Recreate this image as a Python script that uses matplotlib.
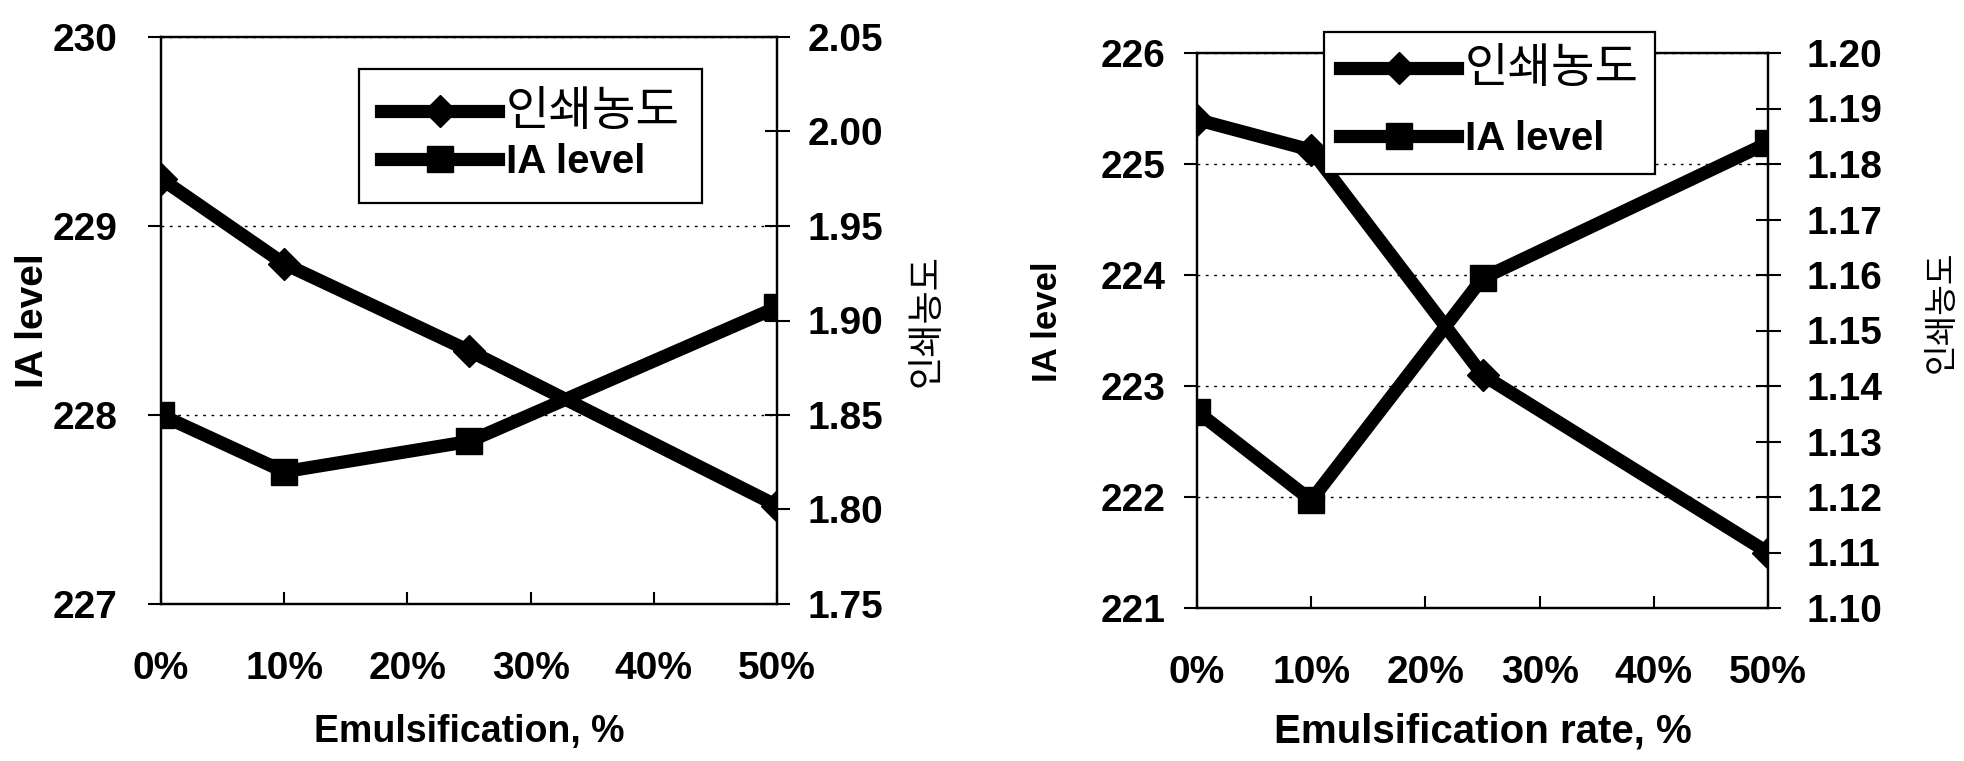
import matplotlib
matplotlib.use("Agg")
import matplotlib.pyplot as plt

plt.rcParams['font.family'] = ['Liberation Sans', 'Noto Sans CJK KR', 'DejaVu Sans']
plt.rcParams['font.weight'] = 'bold'
plt.rcParams['axes.labelweight'] = 'bold'

# emulsification (%) at each measured point
emul = [0, 10, 25, 50]

# left chart
ia_left = [228.0, 227.7, 227.86, 228.57]
dens_left = [1.975, 1.930, 1.884, 1.802]

# right chart
ia_right = [222.77, 221.97, 223.97, 225.19]
dens_right = [1.188, 1.1825, 1.142, 1.110]

xticks = [0, 10, 20, 30, 40, 50]
xticklabels = ['0%', '10%', '20%', '30%', '40%', '50%']

dens_label = '인쇄농도'
ia_label = 'IA level'

fig = plt.figure(figsize=(19.64, 7.61), dpi=100)

W, H = 1964.0, 761.0


def px_axes(x0, x1, top, bottom):
    return fig.add_axes([x0 / W, 1 - bottom / H, (x1 - x0) / W, (bottom - top) / H])


def draw_panel(ax, ia, dens, ylim_l, yticks_l, ylim_r, yticks_r, xlabel,
               lpad, rpad, ylab_x, ylab_rx, ylab_y, ylab_ry, xlab_y,
               ylab_fs, ylab_rfs, xlab_fs,
               leg_xy, leg_spacing, leg_pad):
    ax2 = ax.twinx()

    l_ia, = ax.plot(emul, ia, color='black', lw=9.5, marker='s', ms=19,
                    solid_joinstyle='miter', zorder=3)
    l_d, = ax2.plot(emul, dens, color='black', lw=9.5, marker='D', ms=16,
                    solid_joinstyle='miter', zorder=3)

    ax.set_xlim(0, 50)
    ax.set_ylim(*ylim_l)
    ax.set_yticks(yticks_l)
    ax.set_yticklabels(['%d' % v for v in yticks_l])
    ax2.set_ylim(*ylim_r)
    ax2.set_yticks(yticks_r)
    ax2.set_yticklabels(['%.2f' % v for v in yticks_r])

    ax.set_xticks(xticks)
    ax.set_xticklabels(xticklabels)

    ax.grid(axis='y', linestyle=(0, (2, 4)), color='black', linewidth=1.0)
    ax.set_axisbelow(True)

    for a in (ax, ax2):
        for s in a.spines.values():
            s.set_linewidth(1.6)
            s.set_color('black')

    ax.tick_params(axis='y', direction='out', length=9.5, width=1.5,
                   pad=lpad, labelsize=28)
    ax.tick_params(axis='x', direction='in', length=8.5, width=1.5,
                   pad=34, labelsize=28)
    ax2.tick_params(axis='y', direction='inout', length=18, width=1.5,
                    pad=rpad, labelsize=28)

    ax.set_ylabel(ia_label, fontsize=ylab_fs, va='center', ha='center')
    ax.yaxis.set_label_coords(ylab_x, ylab_y)
    ax2.set_ylabel(dens_label, fontsize=ylab_rfs, fontweight='normal',
                   rotation=90, va='center', ha='center')
    ax2.yaxis.set_label_coords(ylab_rx, ylab_ry)
    ax.set_xlabel(xlabel, fontsize=xlab_fs, va='center')
    ax.xaxis.set_label_coords(0.5, xlab_y)

    leg = ax2.legend([l_d, l_ia], [dens_label, ia_label], loc='upper left',
                     bbox_to_anchor=(leg_xy[0] / W, 1 - leg_xy[1] / H),
                     bbox_transform=fig.transFigure, borderaxespad=0,
                     fontsize=29, handlelength=2.9, handletextpad=0.2,
                     labelspacing=leg_spacing, borderpad=leg_pad,
                     fancybox=False, framealpha=1, edgecolor='black',
                     numpoints=1)
    leg.get_frame().set_linewidth(1.6)
    kor = leg.get_texts()[0]
    kor.set_fontsize(34)
    kor.set_fontweight('normal')
    return ax2


ax_l = px_axes(161, 777, 37, 604)
draw_panel(ax_l, ia_left, dens_left, (227, 230), [227, 228, 229, 230],
           (1.75, 2.05), [1.75, 1.80, 1.85, 1.90, 1.95, 2.00, 2.05],
           'Emulsification, %', lpad=22, rpad=13,
           ylab_x=-0.208, ylab_rx=1.243, ylab_y=0.5, ylab_ry=0.5,
           xlab_y=-0.226, ylab_fs=28, ylab_rfs=26, xlab_fs=27,
           leg_xy=(359, 69), leg_spacing=0.2, leg_pad=0.55)

ax_r = px_axes(1197, 1768, 53, 608)
draw_panel(ax_r, ia_right, dens_right, (221, 226), [221, 222, 223, 224, 225, 226],
           (1.10, 1.20), [1.10 + 0.01 * i for i in range(11)],
           'Emulsification rate, %', lpad=13, rpad=19,
           ylab_x=-0.261, ylab_rx=1.305, ylab_y=0.515, ylab_ry=0.533,
           xlab_y=-0.223, ylab_fs=25, ylab_rfs=24, xlab_fs=29,
           leg_xy=(1324, 32), leg_spacing=0.7, leg_pad=0.4)

fig.savefig('out.png', dpi=100, facecolor='white')
